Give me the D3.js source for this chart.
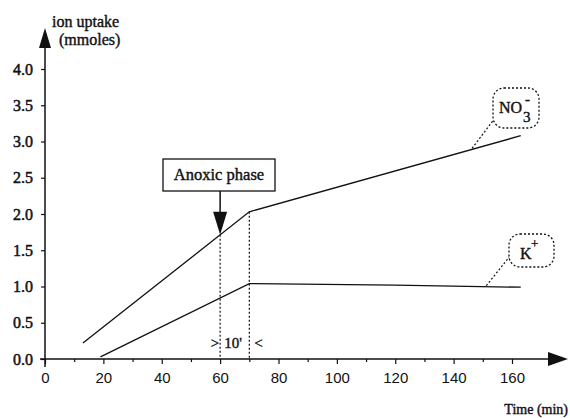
<!DOCTYPE html>
<html>
<head>
<meta charset="utf-8">
<script src="https://cdn.jsdelivr.net/npm/d3@7"></script>
<style>
  html, body { margin: 0; padding: 0; background: #fff; }
  svg { display: block; }
</style>
</head>
<body>
<script>
// Ion uptake during a 10-minute anoxic phase
const timeNO3 = [13, 70, 163];
const no3 = [0.22, 2.03, 3.08];
const timeK = [19, 70, 120, 163];
const kPlus = [0.03, 1.04, 1.02, 0.99];
const xTicks = [0, 20, 40, 60, 80, 100, 120, 140, 160];
const xMinorTicks = [10, 30, 50, 70, 90, 110, 130, 150];
const yTicks = [0, 0.5, 1, 1.5, 2, 2.5, 3, 3.5, 4];
const anoxicStart = 60, anoxicEnd = 70;

const W = 570, H = 418;
const SERIF = "Liberation Serif";
const SANS = "Liberation Sans";
const ink = "#111";

const svg = d3.select("body").append("svg").attr("width", W).attr("height", H);

const x = d3.scaleLinear().domain([0, 160]).range([45, 512]);
const y = d3.scaleLinear().domain([0, 4]).range([359, 69]);

// serif text, slightly heavy like the printed labels
function label(px, py, str, size, anchor) {
  return svg.append("text").attr("x", px).attr("y", py)
    .style("font-family", SERIF).style("font-size", size + "px")
    .attr("stroke", ink).attr("stroke-width", 0.4)
    .attr("text-anchor", anchor || "start").attr("fill", ink).text(str);
}

// axis lines with arrowheads
svg.append("line").attr("x1", 40).attr("x2", 550).attr("y1", y(0)).attr("y2", y(0))
  .attr("stroke", ink).attr("stroke-width", 1.5);
svg.append("path").attr("d", `M548,${y(0) - 7}L568,${y(0)}L548,${y(0) + 7}Z`).attr("fill", ink);
svg.append("line").attr("x1", x(0)).attr("x2", x(0)).attr("y1", 367).attr("y2", 46)
  .attr("stroke", ink).attr("stroke-width", 1.5);
svg.append("path").attr("d", `M${x(0) - 6},48L${x(0)},28L${x(0) + 6},48Z`).attr("fill", ink);

// x axis ticks and labels
const xAxis = d3.axisBottom(x).tickValues(xTicks).tickSize(5).tickPadding(8).tickFormat(d3.format("d"));
const gx = svg.append("g").attr("transform", `translate(0,${y(0)})`).call(xAxis);
gx.select(".domain").remove();
gx.selectAll(".tick line").attr("stroke", ink).attr("stroke-width", 1.2);
gx.selectAll(".tick text").style("font-family", SANS).style("font-size", "15px").attr("fill", ink);
const xMinor = d3.axisBottom(x).tickValues(xMinorTicks).tickSize(3).tickFormat("");
const gxm = svg.append("g").attr("transform", `translate(0,${y(0)})`).call(xMinor);
gxm.select(".domain").remove();
gxm.selectAll(".tick line").attr("stroke", ink).attr("stroke-width", 1.2);

// y axis ticks and labels
const yAxis = d3.axisLeft(y).tickValues(yTicks).tickSize(4).tickPadding(8).tickFormat(d3.format(".1f"));
const gy = svg.append("g").attr("transform", `translate(${x(0)},0)`).call(yAxis);
gy.select(".domain").remove();
gy.selectAll(".tick line").attr("stroke", ink).attr("stroke-width", 1.2);
gy.selectAll(".tick text").style("font-family", SERIF).style("font-size", "16px")
  .attr("stroke", ink).attr("stroke-width", 0.5).attr("fill", ink);

// axis titles
label(52, 27, "ion uptake", 16);
label(59, 45, "(mmoles)", 16);
label(568, 414, "Time (min)", 14, "end");

// uptake curves
const line = d3.line().x(d => x(d[0])).y(d => y(d[1]));
const no3Pts = timeNO3.map((t, i) => [t, no3[i]]);
const kPts = timeK.map((t, i) => [t, kPlus[i]]);
svg.append("path").attr("d", line(no3Pts)).attr("fill", "none").attr("stroke", ink).attr("stroke-width", 1.3);
svg.append("path").attr("d", line(kPts)).attr("fill", "none").attr("stroke", ink).attr("stroke-width", 1.3);

// NO3 value along the curve at a given time
function no3At(t) {
  const i = d3.bisectRight(timeNO3, t) - 1;
  const j = Math.min(i + 1, timeNO3.length - 1);
  const f = (t - timeNO3[i]) / (timeNO3[j] - timeNO3[i] || 1);
  return no3[i] + f * (no3[j] - no3[i]);
}

// dotted markers for the anoxic interval
[anoxicStart, anoxicEnd].forEach(t => {
  svg.append("line").attr("x1", x(t)).attr("x2", x(t)).attr("y1", y(no3At(t))).attr("y2", y(0))
    .attr("stroke", ink).attr("stroke-width", 1.2).attr("stroke-dasharray", "2,2");
});
label(x(anoxicStart) - 1, 348, ">", 15, "end");
label(x(anoxicStart) + 4, 348, "10'", 15);
label(x(anoxicEnd) + 5, 348, "<", 15);

// "Anoxic phase" box with arrow
const bx = 163, by = 159, bw = 112, bh = 32;
svg.append("rect").attr("x", bx).attr("y", by).attr("width", bw).attr("height", bh)
  .attr("fill", "#fff").attr("stroke", ink).attr("stroke-width", 1.3);
label(bx + bw / 2, by + 21, "Anoxic phase", 16.5, "middle");
const tipY = y(no3At(anoxicStart));
svg.append("line").attr("x1", x(anoxicStart)).attr("x2", x(anoxicStart)).attr("y1", by + bh).attr("y2", tipY - 20)
  .attr("stroke", ink).attr("stroke-width", 1.5);
svg.append("path").attr("d", `M${x(anoxicStart) - 7},${tipY - 23}L${x(anoxicStart) + 7},${tipY - 23}L${x(anoxicStart)},${tipY}Z`)
  .attr("fill", ink);

// dotted callout bubbles
function bubble(bxl, byt, w, h, fromX, fromY, toX, toY) {
  svg.append("line").attr("x1", fromX).attr("y1", fromY).attr("x2", toX).attr("y2", toY)
    .attr("stroke", ink).attr("stroke-width", 1.2).attr("stroke-dasharray", "2,2");
  svg.append("rect").attr("x", bxl).attr("y", byt).attr("width", w).attr("height", h)
    .attr("rx", 11).attr("ry", 11).attr("fill", "#fff")
    .attr("stroke", ink).attr("stroke-width", 1.3).attr("stroke-dasharray", "2,2");
}

// NO3- callout
bubble(493, 88, 46, 40, 495, 118, x(146), y(no3At(146)));
label(499, 113, "NO", 16);
label(523, 122, "3", 15);
label(525, 104, "-", 15);

// K+ callout
bubble(509, 234, 45, 33, 510, 256, x(151), y(1.0));
label(520, 259, "K", 16);
label(531, 248, "+", 13);
</script>
</body>
</html>
